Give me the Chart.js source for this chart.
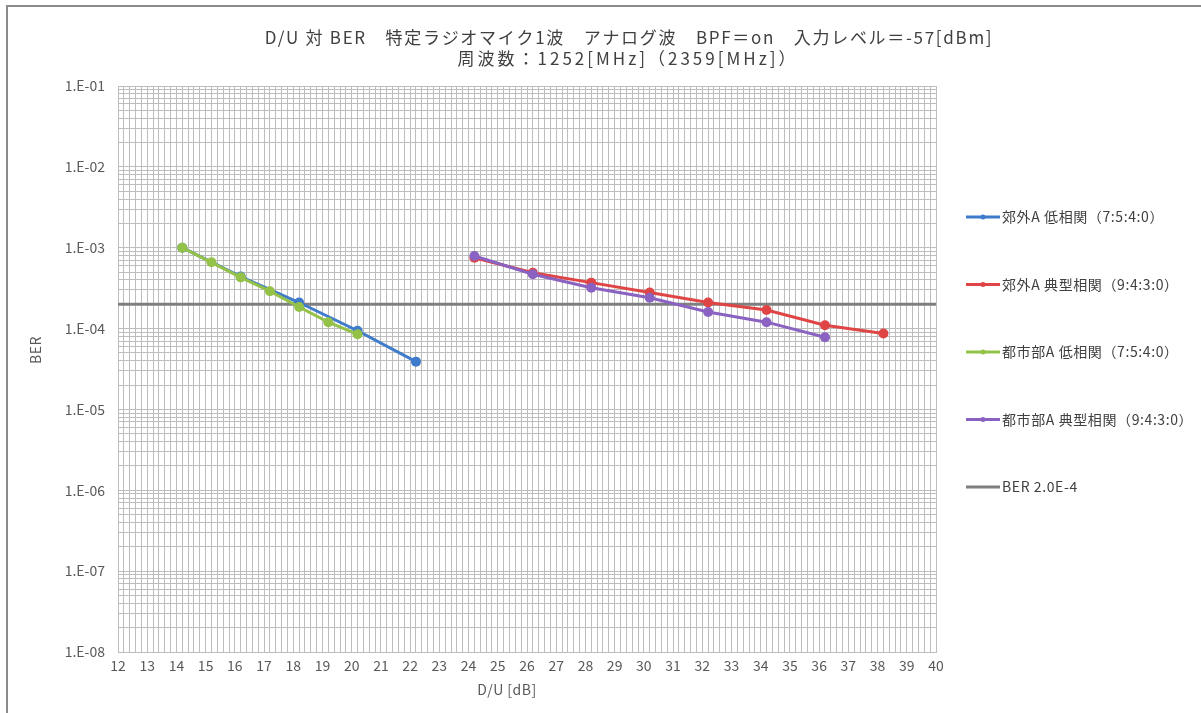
<!DOCTYPE html>
<html>
<head>
<meta charset="utf-8">
<script src="https://cdn.jsdelivr.net/npm/chart.js@4.4.0/dist/chart.umd.min.js"></script>
<style>
  html, body { margin: 0; padding: 0; background: #fff; }
  canvas { display: block; }
</style>
</head>
<body>
<canvas id="berChart" width="1201" height="713"></canvas>
<script>
// data
var titleLines = [
  "D/U 対 BER　特定ラジオマイク1波　アナログ波　BPF＝on　入力レベル＝-57[dBm]",
  "周波数：1252[MHz]（2359[MHz]）"
];
var xTitle = "D/U [dB]";
var yTitle = "BER";
var seriesNames = [
  "郊外A 低相関（7:5:4:0）",
  "郊外A 典型相関（9:4:3:0）",
  "都市部A 低相関（7:5:4:0）",
  "都市部A 典型相関（9:4:3:0）",
  "BER 2.0E-4"
];
var seriesColors = ["#3F7BCB", "#E04545", "#94C248", "#8A62C2", "#7F7F7F"];

var duSuburbLow = [14.2, 16.2, 18.2, 20.2, 22.2];
var berSuburbLow = [1.0e-3, 4.4e-4, 2.1e-4, 9.4e-5, 3.9e-5];

var duSuburbTyp = [24.2, 26.2, 28.2, 30.2, 32.2, 34.2, 36.2, 38.2];
var berSuburbTyp = [7.5e-4, 4.9e-4, 3.7e-4, 2.8e-4, 2.1e-4, 1.7e-4, 1.1e-4, 8.7e-5];

var duUrbanLow = [14.2, 15.2, 16.2, 17.2, 18.2, 19.2, 20.2];
var berUrbanLow = [1.0e-3, 6.6e-4, 4.3e-4, 2.9e-4, 1.85e-4, 1.2e-4, 8.5e-5];

var duUrbanTyp = [24.2, 26.2, 28.2, 30.2, 32.2, 34.2, 36.2];
var berUrbanTyp = [7.9e-4, 4.7e-4, 3.2e-4, 2.4e-4, 1.6e-4, 1.2e-4, 7.8e-5];

var duLimit = [12, 40];
var berLimit = [2.0e-4, 2.0e-4];

var xMin = 12, xMax = 40, xMinorStep = 0.2;
var yTickLabels = ["1.E-08", "1.E-07", "1.E-06", "1.E-05", "1.E-04", "1.E-03", "1.E-02", "1.E-01"];
var yMinExp = -8, yMaxExp = -1;

function toPoints(xs, ys) {
  return xs.map(function (x, i) { return { x: x, y: ys[i] }; });
}

var seriesX = [duSuburbLow, duSuburbTyp, duUrbanLow, duUrbanTyp, duLimit];
var seriesY = [berSuburbLow, berSuburbTyp, berUrbanLow, berUrbanTyp, berLimit];
var drawOrder = [4, 3, 2, 1, 5];

var datasets = seriesNames.map(function (name, i) {
  var isLimit = i === 4;
  return {
    label: name,
    data: toPoints(seriesX[i], seriesY[i]),
    borderColor: seriesColors[i],
    backgroundColor: seriesColors[i],
    borderWidth: 3,
    pointRadius: isLimit ? 0 : 5,
    pointBorderWidth: 0,
    pointHoverRadius: isLimit ? 0 : 5,
    tension: 0,
    order: drawOrder[i]
  };
});

var font = '"Noto Sans CJK JP", "Noto Sans", sans-serif';
var textColor = "#595959";
var gridColor = "#bdbdbd";

// title, axis titles, legend and the outer frame
var decor = {
  id: "decor",
  beforeDraw: function (chart) {
    var ctx = chart.ctx;
    ctx.save();
    ctx.strokeStyle = "#8c8c8c";
    ctx.lineWidth = 2;
    ctx.beginPath();
    ctx.moveTo(7, 713);
    ctx.lineTo(7, 6);
    ctx.lineTo(1201, 6);
    ctx.stroke();
    ctx.restore();
  },
  afterDraw: function (chart) {
    var ctx = chart.ctx;
    ctx.save();
    ctx.fillStyle = "#404040";
    ctx.textAlign = "center";
    ctx.textBaseline = "middle";
    ctx.font = "17px " + font;
    ctx.letterSpacing = "1.7px";
    ctx.fillText(titleLines[0], 629, 38);
    ctx.letterSpacing = "3px";
    ctx.fillText(titleLines[1], 628, 59);

    ctx.fillStyle = textColor;
    ctx.font = "14px " + font;
    ctx.letterSpacing = "0.5px";
    ctx.fillText(xTitle, 507, 690);

    ctx.save();
    ctx.translate(36, 350);
    ctx.rotate(-Math.PI / 2);
    ctx.fillText(yTitle, 0, 0);
    ctx.restore();

    ctx.textAlign = "left";
    ctx.font = "14px " + font;
    ctx.letterSpacing = "0.6px";
    chart.data.datasets.forEach(function (ds, i) {
      var y = 217 + i * 67.5;
      ctx.strokeStyle = ds.borderColor;
      ctx.lineWidth = 3;
      ctx.beginPath();
      ctx.moveTo(966, y);
      ctx.lineTo(1000, y);
      ctx.stroke();
      if (ds.pointRadius > 0) {
        ctx.fillStyle = ds.borderColor;
        ctx.beginPath();
        ctx.arc(983, y, 2.5, 0, Math.PI * 2);
        ctx.fill();
      }
      ctx.fillStyle = "#404040";
      ctx.fillText(ds.label, 1002, y);
    });
    ctx.restore();
  }
};

new Chart(document.getElementById("berChart").getContext("2d"), {
  type: "line",
  data: { datasets: datasets },
  plugins: [decor],
  options: {
    responsive: false,
    animation: false,
    devicePixelRatio: 1,
    layout: { padding: { top: 86, right: 265, bottom: 0, left: 0 } },
    plugins: {
      legend: { display: false },
      title: { display: false },
      tooltip: { enabled: false }
    },
    scales: {
      x: {
        type: "linear",
        min: xMin,
        max: xMax,
        afterBuildTicks: function (scale) {
          var ticks = [];
          var n = Math.round((xMax - xMin) / xMinorStep);
          for (var k = 0; k <= n; k++) {
            ticks.push({ value: Math.round((xMin + k * xMinorStep) * 10) / 10 });
          }
          scale.ticks = ticks;
        },
        afterFit: function (scale) { scale.height = 61; },
        ticks: {
          autoSkip: false,
          maxRotation: 0,
          minRotation: 0,
          padding: 5,
          color: textColor,
          font: { family: font, size: 14 },
          callback: function (v) {
            return Math.abs(v - Math.round(v)) < 1e-6 ? String(Math.round(v)) : "";
          }
        },
        grid: { color: gridColor, lineWidth: 1, drawTicks: false },
        border: { color: gridColor }
      },
      y: {
        type: "logarithmic",
        min: Math.pow(10, yMinExp),
        max: Math.pow(10, yMaxExp),
        afterBuildTicks: function (scale) {
          var ticks = [];
          for (var e = yMinExp; e < yMaxExp; e++) {
            for (var m = 1; m <= 9; m++) {
              ticks.push({ value: Number((m + "e" + e)), major: m === 1 });
            }
          }
          ticks.push({ value: Number("1e" + yMaxExp), major: true });
          scale.ticks = ticks;
        },
        afterFit: function (scale) { scale.width = 118; },
        ticks: {
          autoSkip: false,
          padding: 13,
          color: textColor,
          font: { family: font, size: 14 },
          callback: function (v) {
            var e = Math.log10(v);
            if (Math.abs(e - Math.round(e)) > 1e-9) return "";
            return yTickLabels[Math.round(e) - yMinExp];
          }
        },
        grid: { color: gridColor, lineWidth: 1, drawTicks: false },
        border: { color: gridColor }
      }
    }
  }
});
</script>
</body>
</html>
